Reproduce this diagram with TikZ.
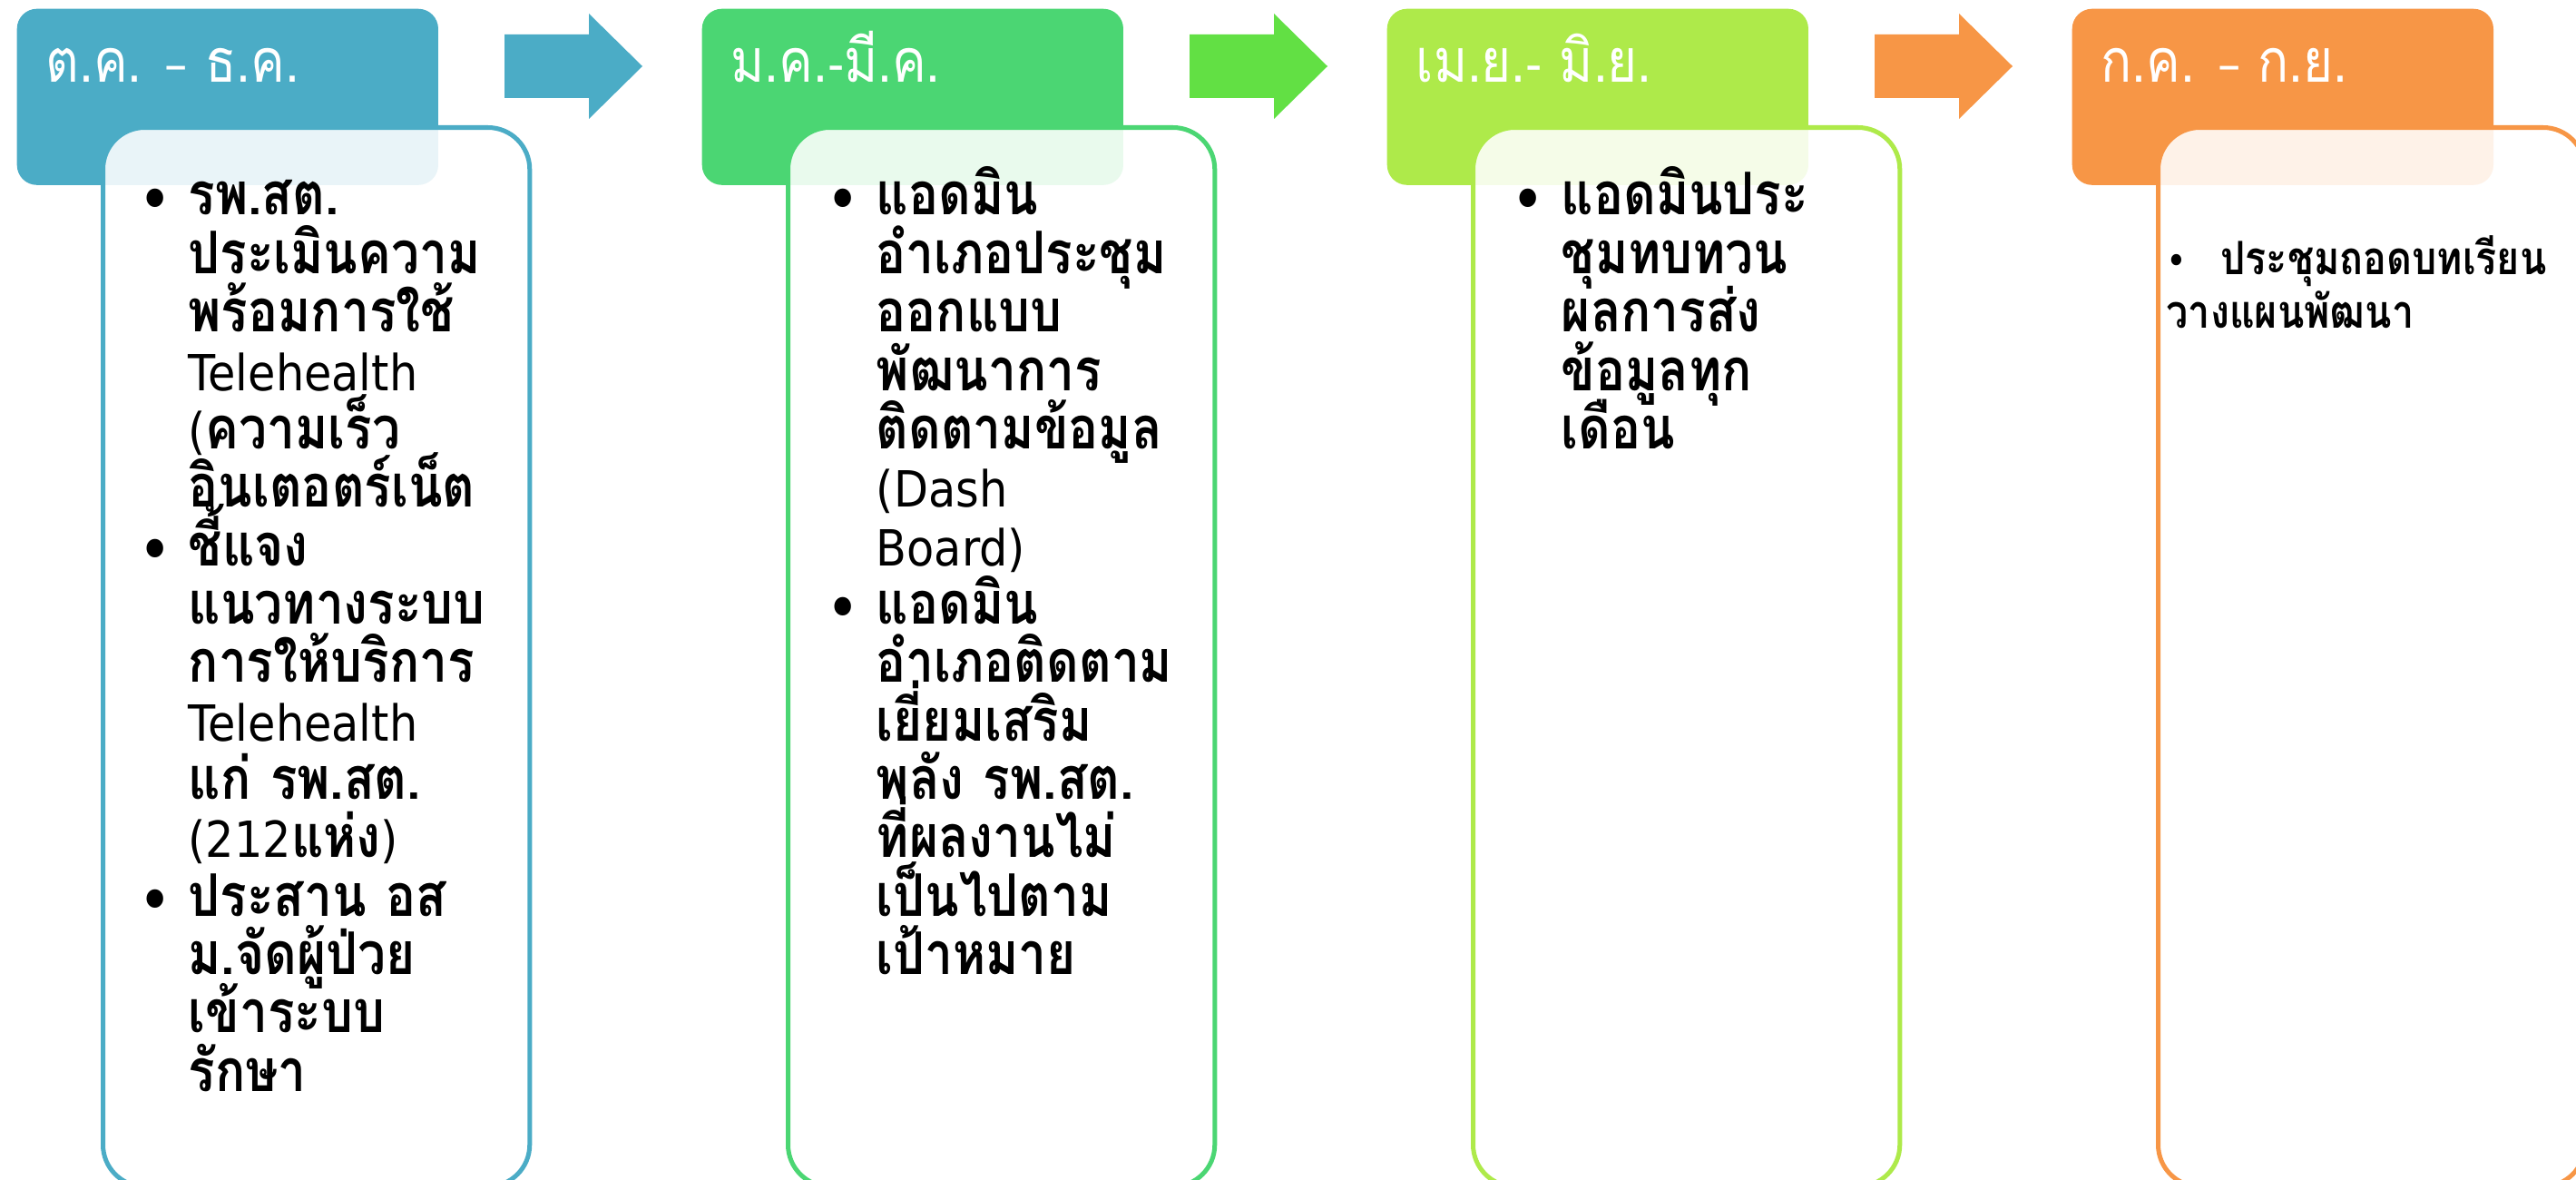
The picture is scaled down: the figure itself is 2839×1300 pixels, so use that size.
\documentclass[tikz,border=0pt]{standalone}
\usepackage{fontspec}
\setmainfont[FakeStretch=0.9]{DejaVu Sans}
\newfontfamily\thaifont[Script=Thai, Scale=1.18, FakeStretch=0.85]{Loma}
\definecolor{octBlue}{HTML}{4BACC6}
\definecolor{janGreen}{HTML}{4BD673}
\definecolor{aprLime}{HTML}{AEEA4A}
\definecolor{julOrange}{HTML}{F79646}
\definecolor{arrowGreen}{HTML}{62E044}
\newlength{\bulgap}
\setlength{\bulgap}{0.55cm}
\newcommand{\lat}[1]{{\normalfont #1}}
\newcommand{\tightLines}{\lineskiplimit=-100pt\relax}
\newcommand{\bul}{%%
  \tightLines\setlength{\leftskip}{\bulgap}\noindent
  \llap{\makebox[\bulgap][l]{\raisebox{-0.07cm}{\lat{\fontsize{20}{20}\selectfont •}}}}%%
}
\newcommand{\periodBox}[4]{%%
  \node[headStyle, fill=#2] (head#3) at (#1,\headtop) {};
  \node[bodyStyle, draw=#2] (body#3) at (#1+\bodydx,\bodytop) {};
  \node[titleStyle] (title#3) at (#1+\titledx,\titlebase) {#4};
}
\newcommand{\stepArrow}[2]{%%
  \fill[#2] (#1+538,38) -- (#1+631,38) -- (#1+631,15) -- (#1+690,73)
    -- (#1+631,131) -- (#1+631,108) -- (#1+538,108) -- cycle;
}

\begin{document}
\begin{tikzpicture}[%%
  x=0.01cm, y=-0.01cm,%%
  headStyle/.style={rectangle, rounded corners=0.22cm, inner sep=0pt,
    minimum width=4.64cm, minimum height=1.94cm, anchor=north west},%%
  bodyStyle/.style={rectangle, rounded corners=0.46cm, inner sep=0pt,
    line width=0.05cm, fill=white, fill opacity=0.88,
    minimum width=4.70cm, minimum height=11.66cm, anchor=north west},%%
  titleStyle/.style={text=white, inner sep=0pt, anchor=base west,
    font=\thaifont\fontsize{16}{18}\selectfont},%%
  listStyle/.style={inner sep=0pt, anchor=base west, text width=4cm, align=left,
    font=\thaifont\bfseries\fontsize{15.6}{18.3}\selectfont},%%
  noteStyle/.style={inner sep=0pt, anchor=base west, text width=4.4cm, align=left,
    font=\thaifont\bfseries\fontsize{12.2}{16.5}\selectfont}
]
%%
\pgfmathsetmacro{\headtop}{9}
\pgfmathsetmacro{\bodytop}{138}
\pgfmathsetmacro{\bodydx}{93}
\pgfmathsetmacro{\titledx}{32}
\pgfmathsetmacro{\titlebase}{91}
%%
\fill[white] (0,0) rectangle (2839,1300);
\useasboundingbox (0,0) rectangle (2839,1300);
%%
%% The arrows between the periods.
\stepArrow{18}{octBlue}
\stepArrow{773}{arrowGreen}
\stepArrow{1528}{julOrange}
%%
%% The four periods.
\periodBox{18}{octBlue}{Oct}{ต.ค. \lat{–} ธ.ค.}
\periodBox{773}{janGreen}{Jan}{ม.ค.\lat{-}มี.ค.}
\periodBox{1528}{aprLime}{Apr}{เม.ย.\lat{-} มิ.ย.}
\periodBox{2283}{julOrange}{Jul}{ก.ค. \lat{–} ก.ย.}
%%
%% What is done in each period.
\node[listStyle] (listOct) at (152,237) {%%
  \bul รพ.สต.\\ประเมินความ\\พร้อมการใช้\\\lat{Telehealth}\\\lat{(}ความเร็ว\\อินเตอตร์เน็ต\par
  \bul ชี้แจง\\แนวทางระบบ\\การให้บริการ\\\lat{Telehealth}\\แก่ รพ.สต.\\\lat{(212}แห่ง\lat{)}\par
  \bul ประสาน อส\\ม.จัดผู้ป่วย\\เข้าระบบ\\รักษา\par};
\node[listStyle] (listJan) at (910,237) {%%
  \bul แอดมิน\\อำเภอประชุม\\ออกแบบ\\พัฒนาการ\\ติดตามข้อมูล\\\lat{(Dash}\\\lat{Board)}\par
  \bul แอดมิน\\อำเภอติดตาม\\เยี่ยมเสริม\\พลัง รพ.สต.\\ที่ผลงานไม่\\เป็นไปตาม\\เป้าหมาย\par};
\node[listStyle] (listApr) at (1665,237) {%%
  \bul แอดมินประ\\ชุมทบทวน\\ผลการส่ง\\ข้อมูลทุก\\เดือน\par};
\node[noteStyle] (listJul) at (2387,303) {%%
  \tightLines\lat{•}\hspace{0.37cm}ประชุมถอดบทเรียน\\วางแผนพัฒนา};
\end{tikzpicture}
\end{document}
